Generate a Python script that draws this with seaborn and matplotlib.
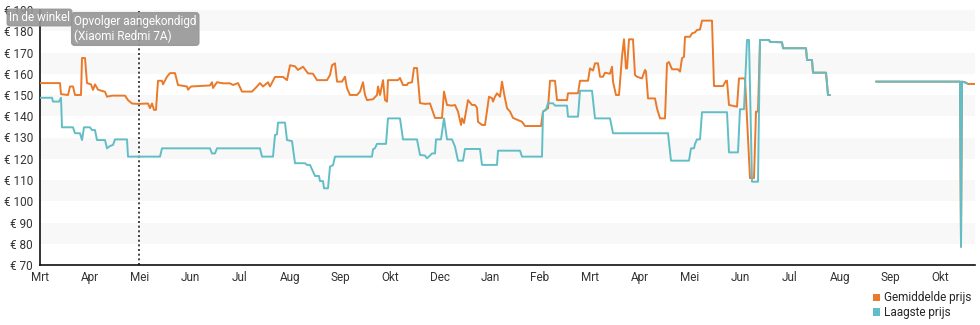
import numpy as np
import pandas as pd
import matplotlib
matplotlib.use("Agg")
import matplotlib.pyplot as plt
from matplotlib.patches import Rectangle
import seaborn as sns

# ---- data (x in months since first "Mrt" tick) ----
month_labels = ["Mrt", "Apr", "Mei", "Jun", "Jul", "Aug", "Sep", "Okt", "Dec", "Jan",
                "Feb", "Mrt", "Apr", "Mei", "Jun", "Jul", "Aug", "Sep", "Okt"]
price_ticks = [70, 80, 90, 100, 110, 120, 130, 140, 150, 160, 170, 180, 190]

avg_t = [0.00, 0.40, 0.42, 0.56, 0.60, 0.66, 0.70, 0.82, 0.84, 0.90, 0.94, 1.02, 1.06, 1.10,
         1.16, 1.30, 1.34, 1.44, 1.70, 1.76, 1.84, 1.96, 2.16, 2.20, 2.24, 2.28, 2.32, 2.36,
         2.44, 2.46, 2.54, 2.60, 2.70, 2.76, 2.94, 2.96, 3.02, 3.40, 3.44, 3.46, 3.54, 3.66,
         3.80, 3.86, 3.96, 4.04, 4.24, 4.34, 4.40, 4.46, 4.56, 4.60, 4.70, 4.86, 4.94, 5.00,
         5.10, 5.16, 5.26, 5.36, 5.46, 5.54, 5.74, 5.80, 5.84, 5.90, 5.94, 6.04, 6.10, 6.14,
         6.20, 6.34, 6.40, 6.46, 6.50, 6.54, 6.66, 6.74, 6.76, 6.80, 6.86, 6.90, 6.94, 6.96,
         7.16, 7.20, 7.26, 7.34, 7.36, 7.44, 7.48, 7.54, 7.60, 7.70, 7.80, 7.90, 8.04, 8.08,
         8.14, 8.24, 8.30, 8.36, 8.42, 8.44, 8.48, 8.56, 8.64, 8.70, 8.74, 8.76, 8.84, 8.90,
         8.98, 9.04, 9.06, 9.10, 9.14, 9.20, 9.24, 9.28, 9.34, 9.40, 9.46, 9.64, 9.70, 10.02,
         10.06, 10.16, 10.20, 10.30, 10.34, 10.54, 10.56, 10.76, 10.80, 10.96, 11.00, 11.06,
         11.10, 11.16, 11.20, 11.26, 11.30, 11.40, 11.44, 11.46, 11.52, 11.58, 11.64, 11.68,
         11.72, 11.74, 11.78, 11.86, 11.90, 11.94, 12.04, 12.10, 12.12, 12.16, 12.30, 12.34,
         12.40, 12.50, 12.54, 12.58, 12.64, 12.76, 12.80, 12.84, 12.88, 12.90, 13.00, 13.04,
         13.10, 13.14, 13.20, 13.24, 13.44, 13.48, 13.66, 13.72, 13.74, 13.78, 13.94, 13.98,
         14.10, 14.20, 14.28, 14.32, 14.36, 14.40, 14.58, 14.60, 14.84, 14.86, 15.32, 15.34,
         15.44, 15.46, 15.72, 15.76, 15.80, 15.81,
         16.72, 18.40, 18.42, 18.44, 18.50, 18.56, 18.70]
avg_p = [155.6, 155.6, 150.4, 150.0, 154.0, 154.0, 150.0, 150.0, 167.4, 167.4, 155.6, 155.0,
         152.4, 155.0, 152.5, 151.5, 149.2, 149.7, 149.7, 147.6, 146.0, 145.8, 146.0, 143.8,
         146.0, 143.0, 143.0, 156.7, 156.7, 155.0, 158.6, 160.3, 160.3, 154.7, 154.0, 152.5,
         154.0, 154.5, 156.0, 153.3, 156.0, 155.5, 155.5, 154.7, 155.6, 151.6, 151.6, 154.0,
         155.6, 154.0, 156.0, 154.0, 158.5, 158.5, 157.0, 164.0, 163.5, 161.8, 163.3, 160.2,
         160.0, 157.0, 157.0, 159.4, 164.0, 164.9, 156.3, 156.3, 158.6, 153.2, 150.0, 150.0,
         151.6, 156.0, 150.0, 147.6, 148.0, 150.0, 154.0, 150.0, 157.0, 147.6, 146.9, 157.0,
         157.0, 158.0, 154.7, 154.7, 155.6, 156.0, 162.7, 162.7, 146.2, 145.8, 146.0, 139.2,
         139.2, 151.6, 145.3, 145.0, 145.3, 142.2, 135.9, 139.0, 136.8, 147.6, 145.3, 145.3,
         144.0, 137.4, 135.9, 135.9, 149.2, 148.5, 146.9, 149.2, 150.8, 149.2, 156.3, 150.8,
         143.8, 142.2, 139.2, 137.4, 135.4, 135.4, 142.2, 143.8, 156.7, 156.7, 147.6, 147.6,
         150.8, 150.8, 156.7, 156.7, 162.5, 161.5, 164.9, 164.9, 158.6, 158.6, 160.5, 160.0,
         163.3, 156.3, 150.0, 150.0, 168.0, 176.2, 162.5, 162.5, 176.2, 176.2, 159.4, 158.6,
         157.8, 161.8, 161.0, 148.4, 148.4, 143.7, 139.0, 139.0, 164.9, 165.5, 162.1, 162.1,
         161.0, 167.3, 168.0, 177.4, 177.4, 179.0, 179.5, 180.6, 180.8, 185.0, 185.0, 154.2,
         154.2, 156.7, 156.7, 145.3, 144.5, 157.8, 157.8, 110.9, 110.9, 142.2, 142.2, 175.9,
         175.9, 175.0, 174.8, 172.0, 172.0, 166.5, 166.5, 160.5, 160.5, 150.0, 150.0, np.nan,
         156.3, 156.3, 78.6, 156.3, 156.0, 155.2, 155.2]

low_t = [0.00, 0.24, 0.26, 0.38, 0.42, 0.44, 0.66, 0.70, 0.80, 0.84, 0.88, 1.00, 1.04, 1.10,
         1.14, 1.30, 1.34, 1.40, 1.46, 1.50, 1.74, 1.76, 2.40, 2.44, 3.40, 3.44, 3.50, 3.54,
         4.40, 4.44, 4.66, 4.70, 4.74, 4.76, 4.90, 4.94, 5.04, 5.10, 5.30, 5.34, 5.40, 5.50,
         5.58, 5.60, 5.66, 5.68, 5.76, 5.80, 5.86, 5.90, 6.64, 6.66, 6.70, 6.74, 6.92, 6.96,
         7.20, 7.26, 7.54, 7.60, 7.70, 7.74, 7.80, 7.84, 7.90, 7.92, 8.02, 8.08, 8.14, 8.24,
         8.30, 8.36, 8.46, 8.50, 8.80, 8.84, 9.14, 9.16, 9.60, 9.64, 10.04, 10.06, 10.12,
         10.16, 10.26, 10.30, 10.54, 10.56, 10.76, 10.80, 11.04, 11.10, 11.40, 11.46, 12.56,
         12.62, 12.98, 13.02, 13.08, 13.10, 13.14, 13.20, 13.24, 13.74, 13.78, 13.96, 14.00,
         14.08, 14.14, 14.18, 14.24, 14.36, 14.40, 14.58, 14.60, 14.84, 14.86, 15.32, 15.34,
         15.44, 15.46, 15.72, 15.76, 15.80, 15.81,
         16.72, 18.40, 18.42, 18.44, 18.54]
low_p = [148.7, 148.7, 146.9, 146.9, 148.7, 134.8, 134.8, 132.0, 132.0, 128.8, 134.8, 134.8,
         133.5, 133.5, 128.8, 128.8, 124.9, 126.0, 126.5, 129.1, 129.1, 121.0, 121.0, 124.9,
         124.9, 122.5, 122.5, 124.9, 124.9, 121.0, 121.0, 131.2, 131.5, 137.0, 137.0, 128.8,
         128.3, 117.9, 117.9, 117.1, 117.1, 111.9, 111.9, 109.5, 109.5, 106.1, 106.1, 116.3,
         117.0, 121.0, 121.0, 124.4, 125.0, 127.0, 127.0, 139.0, 139.0, 129.1, 129.1, 121.8,
         121.5, 120.2, 121.5, 122.5, 122.5, 129.1, 129.1, 139.0, 129.1, 129.1, 125.7, 119.1,
         119.1, 124.6, 124.6, 117.1, 117.1, 123.8, 123.8, 121.0, 121.0, 142.2, 143.0, 146.1,
         146.1, 145.0, 145.0, 139.8, 139.8, 152.0, 152.0, 139.0, 139.0, 132.0, 132.0, 119.1,
         119.1, 124.9, 124.9, 127.0, 129.1, 129.1, 141.9, 141.9, 123.0, 123.0, 143.3, 143.3,
         175.9, 175.9, 109.2, 109.2, 175.9, 175.9, 175.0, 174.8, 172.0, 172.0, 166.5, 166.5,
         160.5, 160.5, 150.0, 150.0, np.nan,
         156.3, 156.3, 78.6, 156.3, 155.5]

series_names = ["Gemiddelde prijs", "Laagste prijs"]
colors = ["#EA7A2A", "#62BEC6"]
successor_t = 1.98


def to_frame(t, p, name):
    p = np.asarray(p, dtype=float)
    seg = np.cumsum(np.isnan(p))
    df = pd.DataFrame({"t": t, "prijs": p, "seg": seg, "serie": name})
    return df.dropna()


df = pd.concat([to_frame(avg_t, avg_p, series_names[0]),
                to_frame(low_t, low_p, series_names[1])], ignore_index=True)
df["unit"] = df["serie"] + df["seg"].astype(str)

sns.set_theme(style="white")
plt.rcParams["font.family"] = ["Roboto", "DejaVu Sans"]

fig = plt.figure(figsize=(9.8, 3.25), dpi=100)
ax = fig.add_axes([40 / 980, 1 - 265 / 325, 935 / 980, 255 / 325])

# alternating bands
for lo in range(80, 190, 20):
    ax.axhspan(lo, lo + 10, color="#f8f8f8", zorder=0, lw=0)

ax.axvline(successor_t, color="#222222", ls=(0, (1.2, 1.6)), lw=1.2, zorder=1)

sns.lineplot(data=df, x="t", y="prijs", hue="serie", units="unit", estimator=None,
             sort=False, palette=dict(zip(series_names, colors)), hue_order=series_names,
             lw=1.4, ax=ax, legend=False, zorder=3)

ax.set_xlim(0, 18.7)
ax.set_ylim(70, 190)
ax.set_xticks(range(len(month_labels)))
ax.set_xticklabels(month_labels)
ax.set_yticks(price_ticks)
ax.set_yticklabels([f"€ {v}" for v in price_ticks])
ax.set_xlabel("")
ax.set_ylabel("")
for s in ["top", "right"]:
    ax.spines[s].set_visible(False)
for s in ["left", "bottom"]:
    ax.spines[s].set_color("#111111")
    ax.spines[s].set_linewidth(1.2)
ax.tick_params(axis="both", which="both", direction="out", length=4, width=1,
               color="#111111", labelsize=8.5, labelcolor="#333333", pad=1)
ax.tick_params(axis="x", pad=0)
ax.grid(False)

# annotations
fig.text(9 / 980, 1 - 17.5 / 325, "In de winkel", fontsize=8.5, color="white",
         va="center", ha="left", zorder=10,
         bbox=dict(boxstyle="round,pad=0.15,rounding_size=0.2", fc="#969696", ec="#969696",
                   alpha=0.9))
fig.text(74 / 980, 1 - 29 / 325, "Opvolger aangekondigd\n(Xiaomi Redmi 7A)", fontsize=8.5,
         color="white", va="center", ha="left", zorder=10, linespacing=1.15,
         bbox=dict(boxstyle="round,pad=0.2,rounding_size=0.25", fc="#969696", ec="#969696",
                   alpha=0.9))

# legend
handles = [Rectangle((0, 0), 1, 1, fc=c, ec="none") for c in colors]
fig.legend(handles, series_names, loc="upper right", bbox_to_anchor=(0.998, 0.125),
           frameon=False, fontsize=8.5, handlelength=0.6, handleheight=0.6,
           handletextpad=0.3, labelspacing=0.15, borderpad=0.1)

fig.savefig("out.png", dpi=100)
